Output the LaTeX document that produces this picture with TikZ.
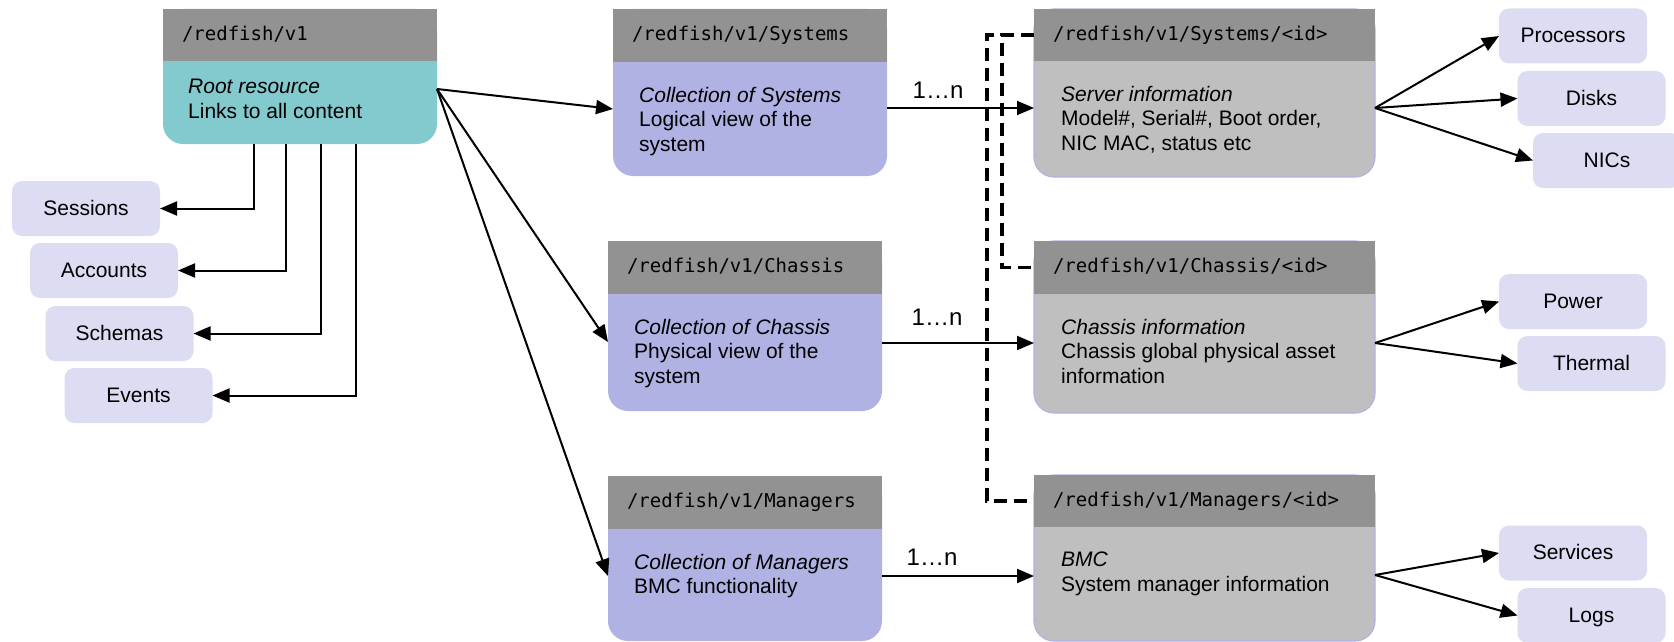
\documentclass[tikz,border=0pt]{standalone}
\usepackage{fontspec}
\setmainfont{Liberation Sans}
\newfontfamily\monofont{DejaVu Sans Mono}
\usetikzlibrary{arrows.meta,calc}

\definecolor{hdrgray}{HTML}{929292}
\definecolor{rootteal}{HTML}{83CACF}
\definecolor{collav}{HTML}{B1B2E4}
\definecolor{idgray}{HTML}{BFBFBF}
\definecolor{leafc}{HTML}{DCDCF2}

\begin{document}
\begin{tikzpicture}[x=1pt,y=-1pt,
  bigbox/.style={anchor=north west, inner sep=0pt, outer sep=0pt, rounded corners=20pt},
  idbox/.style={bigbox, fill=idgray, draw=collav, line width=1.2pt},
  hdr/.style={anchor=north west, fill=hdrgray, inner xsep=19pt, inner ysep=0pt, outer sep=0pt,
    align=left, font=\monofont\fontsize{19}{23}\selectfont, text height=14.5pt, text depth=4pt},
  bodytext/.style={anchor=north west, inner sep=0pt, align=left, font=\fontsize{21}{24.5}\selectfont},
  leaf/.style={fill=leafc, rounded corners=10pt, minimum width=148pt, minimum height=55pt,
    inner sep=0pt, outer sep=0pt, font=\fontsize{21}{24}\selectfont, text height=15pt, text depth=2pt},
  link/.style={line width=2pt, -{Triangle[length=17pt,width=14pt]}},
  dashlink/.style={line width=3.2pt, dash pattern=on 13pt off 7pt},
  mult/.style={inner sep=0pt, font=\fontsize{24}{26}\selectfont}]

\useasboundingbox (0,0) rectangle (1674,642);

% ---- root resource ----
\node[bigbox, fill=rootteal, minimum width=274pt, minimum height=135pt] (root) at (163,9) {};
\node[hdr, text width=236pt, minimum height=52pt] (rootH) at (root.north west) {/redfish/v1};
\node[bodytext] (rootT) at ($(rootH.south west)+(25,18)$) {\textit{Root resource}\\Links to all content};

% ---- collections ----
\node[bigbox, fill=collav, minimum width=274pt, minimum height=167pt] (sys) at (613,9) {};
\node[hdr, text width=236pt, minimum height=53pt] (sysH) at (sys.north west) {/redfish/v1/Systems};
\node[bodytext] (sysT) at ($(sysH.south west)+(26,25)$) {\textit{Collection of Systems}\\Logical view of the\\system};

\node[bigbox, fill=collav, minimum width=274pt, minimum height=170pt] (chas) at (608,241) {};
\node[hdr, text width=236pt, minimum height=53pt] (chasH) at (chas.north west) {/redfish/v1/Chassis};
\node[bodytext] (chasT) at ($(chasH.south west)+(26,25)$) {\textit{Collection of Chassis}\\Physical view of the\\system};

\node[bigbox, fill=collav, minimum width=274pt, minimum height=165pt] (mgr) at (608,476) {};
\node[hdr, text width=236pt, minimum height=53pt] (mgrH) at (mgr.north west) {/redfish/v1/Managers};
\node[bodytext] (mgrT) at ($(mgrH.south west)+(26,25)$) {\textit{Collection of Managers}\\BMC functionality};

% ---- members ----
\node[idbox, minimum width=341pt, minimum height=168pt] (sysid) at (1034,9) {};
\node[hdr, text width=303pt, minimum height=52pt] (sysidH) at (sysid.north west) {/redfish/v1/Systems/<id>};
\node[bodytext] (sysidT) at ($(sysidH.south west)+(27,25)$) {\textit{Server information}\\Model\#, Serial\#, Boot order,\\NIC MAC, status etc};

\node[idbox, minimum width=341pt, minimum height=172pt] (chasid) at (1034,241) {};
\node[hdr, text width=303pt, minimum height=53pt] (chasidH) at (chasid.north west) {/redfish/v1/Chassis/<id>};
\node[bodytext] (chasidT) at ($(chasidH.south west)+(27,25)$) {\textit{Chassis information}\\Chassis global physical asset\\information};

\node[idbox, minimum width=341pt, minimum height=166pt] (mgrid) at (1034,475) {};
\node[hdr, text width=303pt, minimum height=52pt] (mgridH) at (mgrid.north west) {/redfish/v1/Managers/<id>};
\node[bodytext] (mgridT) at ($(mgridH.south west)+(27,25)$) {\textit{BMC}\\System manager information};

% ---- small resources ----
\node[leaf] (sess) at (86,208.5) {Sessions};
\node[leaf] (acct) at (104,270.5) {Accounts};
\node[leaf] (schm) at (119.5,333.5) {Schemas};
\node[leaf] (evts) at (138.5,395.5) {Events};

\node[leaf] (proc) at (1573,36) {Processors};
\node[leaf] (disk) at (1591.5,98.5) {Disks};
\node[leaf] (nics) at (1607,160.5) {NICs};
\node[leaf] (powr) at (1573,301.5) {Power};
\node[leaf] (thrm) at (1591.5,363.5) {Thermal};
\node[leaf] (serv) at (1573,553) {Services};
\node[leaf] (logs) at (1591.5,615.5) {Logs};

% ---- dashed cross links ----
\draw[dashlink] (sysidH.west) -- ++(-47,0) |- (mgridH.west);
\draw[dashlink] (sysidH.west) -- ++(-32,0) |- (chasidH.west);

% ---- root links ----
\draw[link] ([xshift=-46pt]root.south) |- (sess.east);
\draw[link] ([xshift=-14pt]root.south) |- (acct.east);
\draw[link] ([xshift=21pt]root.south) |- (schm.east);
\draw[link] ([xshift=56pt]root.south) |- (evts.east);

\draw[link] ([yshift=-12.5pt]root.east) -- ([yshift=-16.5pt]sys.west);
\draw[link] ([yshift=-12.5pt]root.east) -- ([yshift=-16pt]chas.west);
\draw[link] ([yshift=-12.5pt]root.east) -- ([yshift=-17.5pt]mgr.west);

% ---- collection to member links ----
\draw[link] ([yshift=-15.5pt]sys.east) -- ([yshift=-15pt]sysid.west);
\draw[link] ([yshift=-17pt]chas.east) -- ([yshift=-16pt]chasid.west);
\draw[link] ([yshift=-17.5pt]mgr.east) -- ([yshift=-18pt]mgrid.west);

\node[mult] (m1) at (938,90) {1…n};
\node[mult] (m2) at (937,317) {1…n};
\node[mult] (m3) at (932,557) {1…n};

% ---- member sub-resources ----
\draw[link] ([yshift=-15pt]sysid.east) -- (proc.west);
\draw[link] ([yshift=-15pt]sysid.east) -- (disk.west);
\draw[link] ([yshift=-15pt]sysid.east) -- (nics.west);
\draw[link] ([yshift=-16pt]chasid.east) -- (powr.west);
\draw[link] ([yshift=-16pt]chasid.east) -- (thrm.west);
\draw[link] ([yshift=-17pt]mgrid.east) -- (serv.west);
\draw[link] ([yshift=-17pt]mgrid.east) -- (logs.west);

\end{tikzpicture}
\end{document}
